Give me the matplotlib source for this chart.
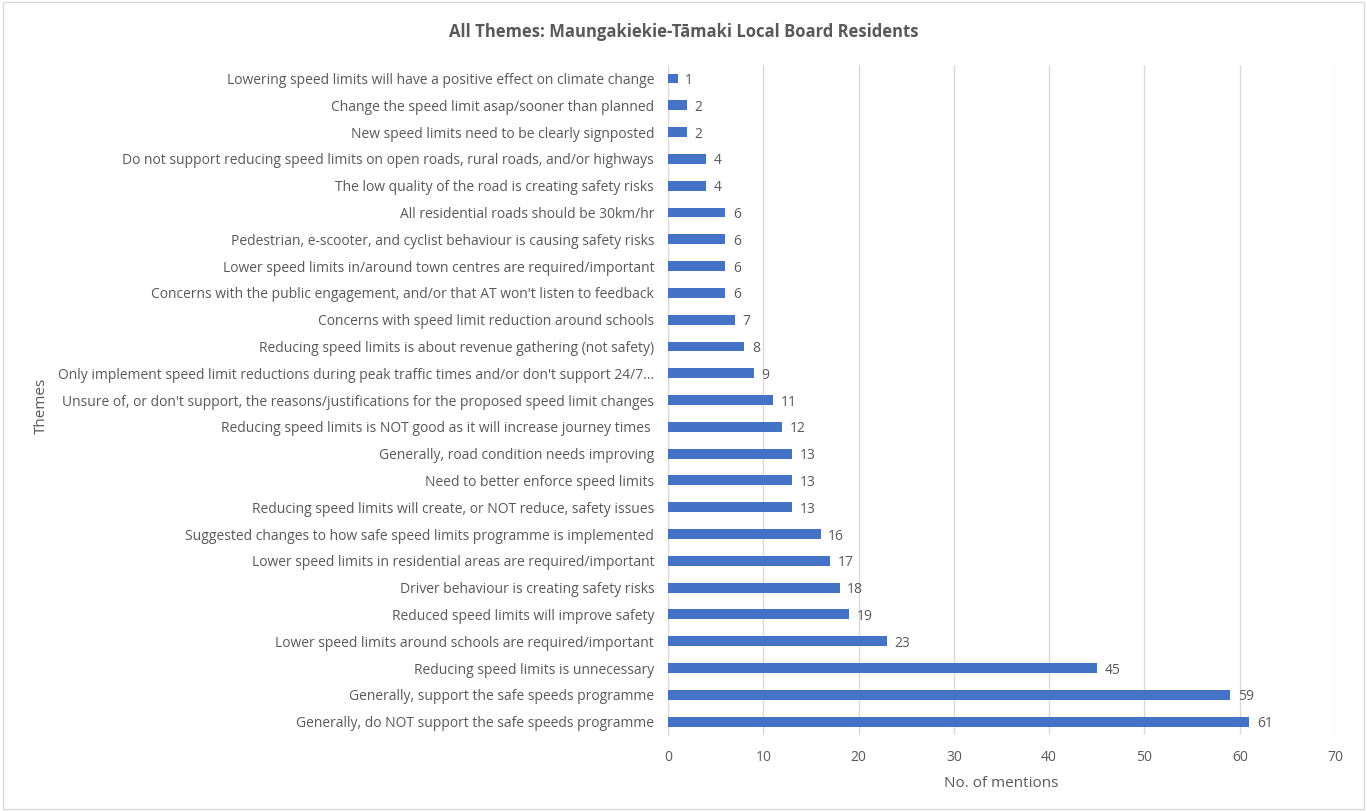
#!/usr/bin/env python3

import matplotlib.pyplot as plt
from matplotlib.patches import Rectangle

themes = [
	"Generally, do NOT support the safe speeds programme",
	"Generally, support the safe speeds programme",
	"Reducing speed limits is unnecessary",
	"Lower speed limits around schools are required/important",
	"Reduced speed limits will improve safety",
	"Driver behaviour is creating safety risks",
	"Lower speed limits in residential areas are required/important",
	"Suggested changes to how safe speed limits programme is implemented",
	"Reducing speed limits will create, or NOT reduce, safety issues",
	"Need to better enforce speed limits",
	"Generally, road condition needs improving",
	"Reducing speed limits is NOT good as it will increase journey times ",
	"Unsure of, or don't support, the reasons/justifications for the proposed speed limit changes",
	"Only implement speed limit reductions during peak traffic times and/or don't support 24/7...",
	"Reducing speed limits is about revenue gathering (not safety)",
	"Concerns with speed limit reduction around schools",
	"Concerns with the public engagement, and/or that AT won't listen to feedback",
	"Lower speed limits in/around town centres are required/important",
	"Pedestrian, e-scooter, and cyclist behaviour is causing safety risks",
	"All residential roads should be 30km/hr",
	"The low quality of the road is creating safety risks",
	"Do not support reducing speed limits on open roads, rural roads, and/or highways",
	"New speed limits need to be clearly signposted",
	"Change the speed limit asap/sooner than planned",
	"Lowering speed limits will have a positive effect on climate change",
]
mentions = [61, 59, 45, 23, 19, 18, 17, 16, 13, 13, 13, 12, 11, 9, 8, 7, 6, 6, 6, 6, 4, 4, 2, 2, 1]
x_ticks = [0, 10, 20, 30, 40, 50, 60, 70]

plt.rcParams['font.family'] = ['Open Sans', 'DejaVu Sans']
grey = '#595959'

fig = plt.figure(figsize=(13.67, 8.11), dpi=100)
ax = fig.add_axes([0.4887, 0.0937, 0.4879, 0.826])

y = list(range(len(themes)))
ax.barh(y, mentions, height=0.37, color='#4472c4', zorder=3)
for yi, v in zip(y, mentions):
	ax.text(v + 0.8, yi, str(v), va='center_baseline', ha='left', fontsize=10, color=grey)

ax.set_ylim(-0.5, len(themes) - 0.5)
ax.set_xlim(0, 70)
ax.set_xticks(x_ticks)
ax.set_yticks(y)
ax.set_yticklabels(themes, fontsize=10, color=grey)
ax.tick_params(axis='x', colors=grey, labelsize=10, length=0, pad=11)
ax.tick_params(axis='y', length=0, pad=10)
ax.grid(axis='x', color='#d9d9d9', linewidth=1, zorder=0)
for s in ['top', 'right', 'bottom']:
	ax.spines[s].set_visible(False)
ax.spines['left'].set_color('#d9d9d9')

ax.set_xlabel("No. of mentions", fontsize=11, color=grey, labelpad=8)
fig.text(0.03, 0.5, "Themes", rotation=90, va='center', ha='center', fontsize=11, color=grey)
fig.text(0.5, 0.961, "All Themes: Maungakiekie-Tāmaki Local Board Residents",
	ha='center', va='center', fontsize=12, fontweight='bold', color=grey)

fig.patches.append(Rectangle((0.002, 0.002), 0.996, 0.996, transform=fig.transFigure,
	fill=False, edgecolor='#d9d9d9', linewidth=1))

fig.savefig('out.png', dpi=100)
